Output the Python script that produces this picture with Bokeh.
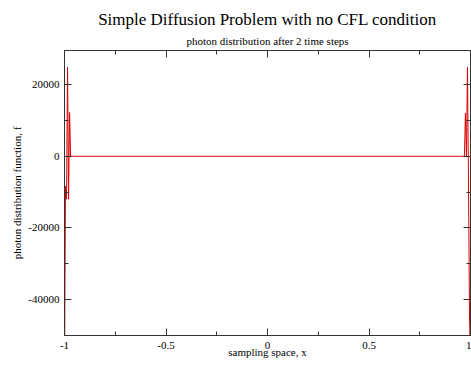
from bokeh.plotting import figure
from bokeh.models import (Range1d, FixedTicker, NumeralTickFormatter, Title,
                          LinearAxis, CustomJSTickFormatter)
from bokeh.embed import file_html
from bokeh.resources import INLINE

# sampled solution near the boundaries (middle is zero)
x_vals = [-1.0, -0.995, -0.99, -0.985, -0.98, -0.975, -0.97,
          0.97, 0.975, 0.98, 0.985, 0.99, 0.995, 1.0]
f_vals = [-60000, -8300, -12000, 24800, -12000, 12200, 0,
          0, 12000, 0, 24800, -6000, -44000, -60000]

x_major = [-1, -0.5, 0, 0.5, 1]
x_minor = [-0.75, -0.25, 0.25, 0.75]
y_major = [-40000, -20000, 0, 20000]
y_minor = [-50000, -30000, -10000, 10000]

title_text = "Simple Diffusion Problem with no CFL condition"
subtitle_text = "photon distribution after 2 time steps"
FONT = "Liberation Serif"
AX = "#333333"

p = figure(width=471, height=368, output_backend="svg", toolbar_location=None,
           x_range=Range1d(-1, 1), y_range=Range1d(-50000, 29500),
           min_border_left=64, min_border_right=1, min_border_top=50,
           min_border_bottom=33)
p.background_fill_color = "white"
p.border_fill_color = "white"
p.outline_line_color = AX
p.xgrid.visible = False
p.ygrid.visible = False

p.line(x_vals, f_vals, line_color="#dd0000", line_width=1)

for ax in (p.xaxis[0], p.yaxis[0]):
    ax.major_tick_in = 7
    ax.major_tick_out = 0
    ax.minor_tick_in = 4
    ax.minor_tick_out = 0
    ax.axis_line_color = AX
    ax.major_tick_line_color = AX
    ax.minor_tick_line_color = AX
    ax.major_label_text_font = FONT
    ax.major_label_text_font_size = "11px"
    ax.major_label_text_color = "black"
    ax.axis_label_text_font = FONT
    ax.axis_label_text_font_size = "11px"
    ax.axis_label_text_font_style = "normal"
    ax.axis_label_text_color = "black"

p.xaxis.major_label_standoff = 6
p.xaxis.axis_label_standoff = -6
p.yaxis.major_label_standoff = 5
p.yaxis.axis_label_standoff = 2

p.xaxis.ticker = FixedTicker(ticks=x_major, minor_ticks=x_minor)
p.yaxis.ticker = FixedTicker(ticks=y_major, minor_ticks=y_minor)
p.xaxis.formatter = NumeralTickFormatter(format="0.[0]")
p.yaxis.formatter = NumeralTickFormatter(format="0")
p.xaxis.axis_label = "sampling space, x"
p.yaxis.axis_label = "photon distribution function, f"

top = LinearAxis(ticker=FixedTicker(ticks=x_major, minor_ticks=x_minor),
                 formatter=CustomJSTickFormatter(code="return ''"),
                 major_tick_in=7, major_tick_out=0,
                 minor_tick_in=4, minor_tick_out=0, major_label_standoff=0,
                 axis_line_color=AX, major_tick_line_color=AX,
                 minor_tick_line_color=AX)
p.add_layout(top, "above")

right = LinearAxis(ticker=FixedTicker(ticks=y_major, minor_ticks=y_minor),
                   formatter=CustomJSTickFormatter(code="return ''"),
                   major_tick_in=7, major_tick_out=0,
                   minor_tick_in=4, minor_tick_out=0, major_label_standoff=0,
                   axis_line_color=AX, major_tick_line_color=AX,
                   minor_tick_line_color=AX)
p.add_layout(right, "right")

p.add_layout(Title(text=subtitle_text, align="center", text_font=FONT,
                   text_font_size="11px", text_font_style="normal",
                   text_color="black", standoff=7), "above")
p.add_layout(Title(text=title_text, align="center", text_font=FONT,
                   text_font_size="17px", text_font_style="normal",
                   text_color="black", standoff=2), "above")

open("out.html", "w").write(file_html(p, INLINE))
